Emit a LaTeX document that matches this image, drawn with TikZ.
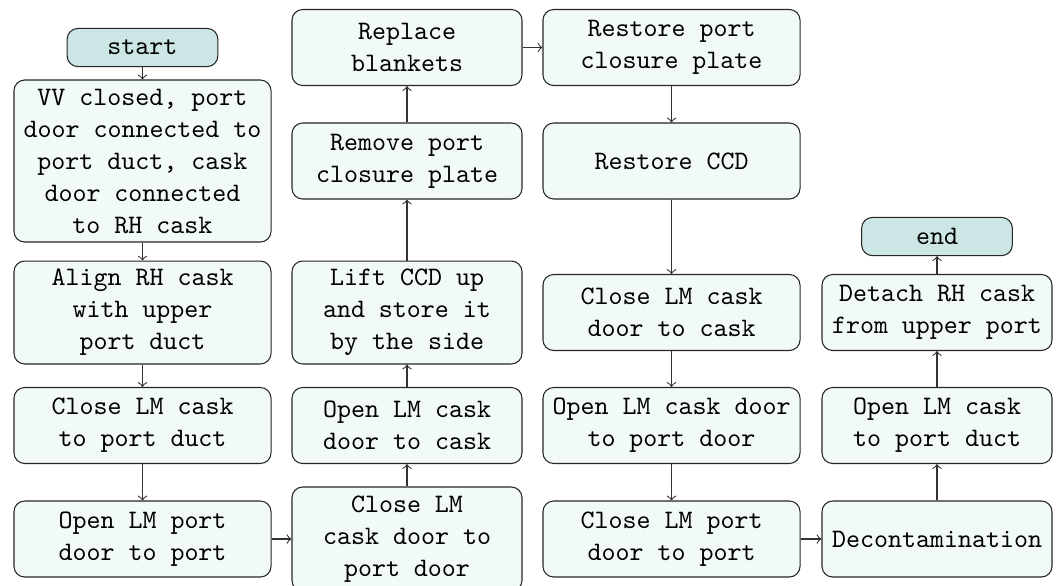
\documentclass[tikz,border=0pt]{standalone}
\usepackage{fontspec}
\begin{document}
\begin{tikzpicture}[x=0.375pt,y=-0.375pt,
  box/.style={draw=black!85, fill=teal!5, rounded corners=4pt, align=center,
    font=\ttfamily, inner sep=0pt},
  wbox/.style={box, minimum width=96.4pt},
  nbox/.style={box, minimum width=86.25pt},
  htwo/.style={minimum height=28.5pt},
  hthree/.style={minimum height=38.6pt},
  term/.style={box, fill=teal!20, minimum width=56.5pt, minimum height=14.3pt},
  arr/.style={->, draw=black!80}]
\useasboundingbox (0,0) rectangle (1061,585);
% column 1
\node[term] (start) at (142.5,47.5) {start};
\node[wbox, minimum height=60.75pt] (vv) at (142.5,161)
  {VV closed, port\\door connected to\\port duct, cask\\door connected\\to RH cask};
\node[wbox, hthree] (align) at (142.5,312.5) {Align RH cask\\with upper\\port duct};
\node[wbox, htwo] (closecask) at (142.5,425.5) {Close LM cask\\to port duct};
\node[wbox, htwo] (openport) at (142.5,539) {Open LM port\\door to port};
% column 2
\node[nbox, minimum height=39pt] (closedoor) at (407,539) {Close LM\\cask door to\\port door};
\node[nbox, htwo] (opendoor) at (407,425.5) {Open LM cask\\door to cask};
\node[nbox, hthree] (lift) at (407,312.5) {Lift CCD up\\and store it\\by the side};
\node[nbox, htwo] (remove) at (407,161) {Remove port\\closure plate};
\node[nbox, htwo] (replace) at (407,47.5) {Replace\\blankets};
% column 3
\node[wbox, htwo] (restoreplate) at (671.5,47.5) {Restore port\\closure plate};
\node[wbox, htwo] (restoreccd) at (671.5,161) {Restore CCD};
\node[wbox, htwo] (closecaskdoor) at (671.5,312.5) {Close LM cask\\door to cask};
\node[wbox, htwo] (opencaskdoor) at (671.5,425.5) {Open LM cask door\\to port door};
\node[wbox, htwo] (closeportdoor) at (671.5,539) {Close LM port\\door to port};
% column 4
\node[nbox, htwo] (decon) at (937,539) {Decontamination};
\node[nbox, htwo] (opencask) at (937,425.5) {Open LM cask\\to port duct};
\node[nbox, htwo] (detach) at (937,312.5) {Detach RH cask\\from upper port};
\node[term] (end) at (937,236.5) {end};
% connectors
\draw[arr] (start) -- (vv);
\draw[arr] (vv) -- (align);
\draw[arr] (align) -- (closecask);
\draw[arr] (closecask) -- (openport);
\draw[arr] (openport) -- (closedoor);
\draw[arr] (closedoor) -- (opendoor);
\draw[arr] (opendoor) -- (lift);
\draw[arr] (lift) -- (remove);
\draw[arr] (remove) -- (replace);
\draw[arr] (replace) -- (restoreplate);
\draw[arr] (restoreplate) -- (restoreccd);
\draw[arr] (restoreccd) -- (closecaskdoor);
\draw[arr] (closecaskdoor) -- (opencaskdoor);
\draw[arr] (opencaskdoor) -- (closeportdoor);
\draw[arr] (closeportdoor) -- (decon);
\draw[arr] (decon) -- (opencask);
\draw[arr] (opencask) -- (detach);
\draw[arr] (detach) -- (end);
\end{tikzpicture}
\end{document}
